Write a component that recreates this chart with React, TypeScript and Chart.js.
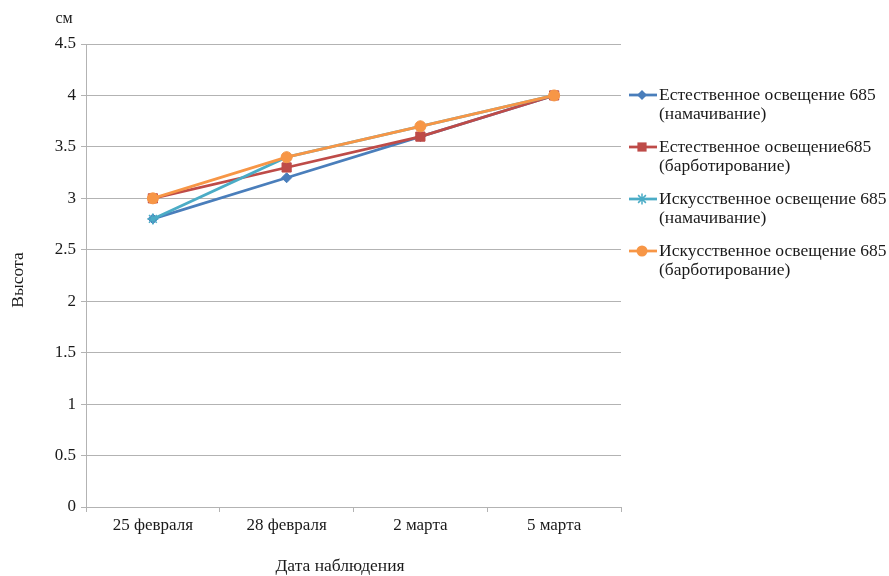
import React, { useEffect, useRef } from "react";
import { Chart, registerables } from "chart.js";

Chart.register(...registerables);

const categories = ["25 февраля", "28 февраля", "2 марта", "5 марта"];
const naturalSoak = [2.8, 3.2, 3.6, 4.0];
const naturalBubble = [3.0, 3.3, 3.6, 4.0];
const artificialSoak = [2.8, 3.4, 3.7, 4.0];
const artificialBubble = [3.0, 3.4, 3.7, 4.0];

const seriesLabels = [
  ["Естественное освещение 685", "(намачивание)"],
  ["Естественное освещение685", "(барботирование)"],
  ["Искусственное освещение 685", "(намачивание)"],
  ["Искусственное освещение 685", "(барботирование)"],
];

const FONT = "'Liberation Serif', 'Times New Roman', serif";
const GRID = "#b3b3b3";
const TEXT = "#1a1a1a";

// Small marker painter for the legend, matching the series point styles
function marker(ctx: CanvasRenderingContext2D, style: string, r: number, x: number, y: number, color: string) {
  ctx.save();
  ctx.fillStyle = color;
  ctx.strokeStyle = color;
  ctx.lineWidth = 1.5;
  ctx.beginPath();
  if (style === "rectRot") {
    ctx.moveTo(x, y - r);
    ctx.lineTo(x + r, y);
    ctx.lineTo(x, y + r);
    ctx.lineTo(x - r, y);
    ctx.closePath();
    ctx.fill();
  } else if (style === "rect") {
    const h = r * Math.SQRT1_2;
    ctx.rect(x - h, y - h, h * 2, h * 2);
    ctx.fill();
  } else if (style === "circle") {
    ctx.arc(x, y, r, 0, Math.PI * 2);
    ctx.fill();
  } else {
    for (let k = 0; k < 4; k++) {
      const a = (k * Math.PI) / 4;
      ctx.moveTo(x - Math.cos(a) * r, y - Math.sin(a) * r);
      ctx.lineTo(x + Math.cos(a) * r, y + Math.sin(a) * r);
    }
    ctx.stroke();
  }
  ctx.restore();
}

// Axis titles and the two-line legend on the right
const annotations = {
  id: "annotations",
  afterDraw(chart: any) {
    const ctx = chart.ctx as CanvasRenderingContext2D;
    ctx.save();
    ctx.fillStyle = TEXT;
    ctx.textBaseline = "middle";

    ctx.font = `16px ${FONT}`;
    ctx.textAlign = "center";
    ctx.fillText("см", 64, 19);
    ctx.font = `17.5px ${FONT}`;
    ctx.fillText("Дата наблюдения", 340, 566);

    ctx.save();
    ctx.translate(18, 280);
    ctx.rotate(-Math.PI / 2);
    ctx.fillText("Высота", 0, 0);
    ctx.restore();

    const rowY = [95, 147, 199, 251];
    // legend entries listed in series order (datasets array is in draw order)
    const byIndex = [3, 2, 1, 0].map((j) => chart.data.datasets[j]);
    byIndex.forEach((ds: any, i: number) => {
      const y = rowY[i];
      ctx.strokeStyle = ds.borderColor;
      ctx.lineWidth = 2.75;
      ctx.beginPath();
      ctx.moveTo(629, y);
      ctx.lineTo(657, y);
      ctx.stroke();
      marker(ctx, ds.pointStyle, ds.pointRadius, 642, y, ds.borderColor);
      ctx.fillStyle = TEXT;
      ctx.font = `17.5px ${FONT}`;
      ctx.textAlign = "left";
      ctx.fillText(seriesLabels[i][0], 659, y);
      ctx.fillText(seriesLabels[i][1], 659, y + 19);
    });
    ctx.restore();
  },
};

export default function App() {
  const ref = useRef<HTMLCanvasElement | null>(null);

  useEffect(() => {
    document.body.style.margin = "0";
    const canvas = ref.current;
    if (!canvas) return;

    const mk = (label: string, data: number[], color: string, style: string, r: number, bw = 1) => ({
      label,
      data,
      borderColor: color,
      backgroundColor: color,
      pointBackgroundColor: color,
      pointBorderColor: color,
      pointStyle: style,
      pointRadius: r,
      pointBorderWidth: bw,
      borderWidth: 2.75,
      tension: 0,
    });

    // Later series are painted over earlier ones
    const chart = new Chart(canvas, {
      type: "line",
      data: {
        labels: categories,
        datasets: [
          mk(seriesLabels[3].join(" "), artificialBubble, "#f79646", "circle", 5.5),
          mk(seriesLabels[2].join(" "), artificialSoak, "#4bacc6", "star", 5.5, 1.5),
          mk(seriesLabels[1].join(" "), naturalBubble, "#be4b48", "rect", 6.5),
          mk(seriesLabels[0].join(" "), naturalSoak, "#4a7ebb", "rectRot", 5),
        ],
      },
      options: {
        responsive: false,
        animation: false,
        events: [],
        layout: { padding: { top: 44, right: 268, bottom: 0, left: 0 } },
        plugins: {
          legend: { display: false },
          tooltip: { enabled: false },
        },
        scales: {
          x: {
            offset: true,
            afterFit: (s: any) => {
              s.height = 69;
            },
            grid: {
              offset: true,
              drawOnChartArea: false,
              tickLength: 5,
              color: GRID,
            },
            border: { color: GRID, width: 1 },
            ticks: {
              color: TEXT,
              font: { family: FONT, size: 17 },
              padding: 3,
              maxRotation: 0,
            },
          },
          y: {
            min: 0,
            max: 4.5,
            afterFit: (s: any) => {
              s.width = 86;
            },
            ticks: {
              stepSize: 0.5,
              color: TEXT,
              font: { family: FONT, size: 17 },
              padding: 5,
              callback: (v: any) => String(v),
            },
            grid: { color: GRID, tickLength: 5 },
            border: { color: GRID, width: 1 },
          },
        },
      },
      plugins: [annotations],
    });

    return () => chart.destroy();
  }, []);

  return (
    <div style={{ width: 889, height: 576, background: "#fff" }}>
      <canvas ref={ref} width={889} height={576} />
    </div>
  );
}
